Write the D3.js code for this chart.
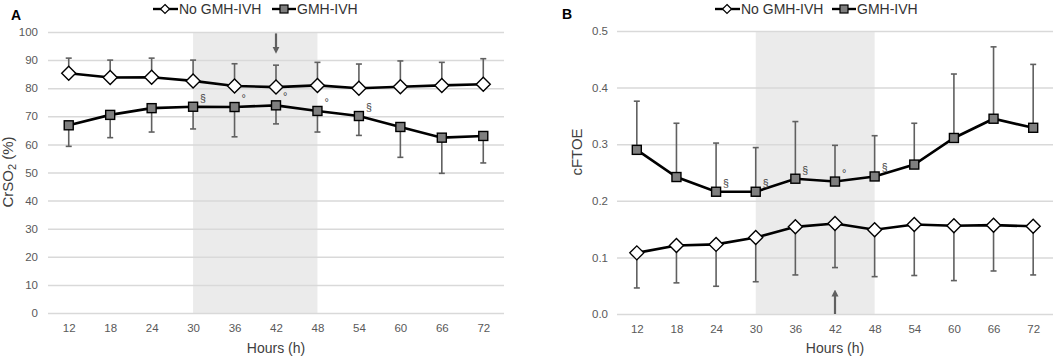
<!DOCTYPE html>
<html><head><meta charset="utf-8">
<script src="https://cdn.jsdelivr.net/npm/d3@7"></script>
<style>body{margin:0;background:#fff}svg{display:block;font-family:"Liberation Sans",Arial,sans-serif}</style>
</head><body><svg id="c" width="1063" height="360"></svg>
<script>
const hours = ["12","18","24","30","36","42","48","54","60","66","72"];
// Panel A: CrSO2 (%)
const aNoVal = [85.3,83.8,83.9,82.6,80.8,80.4,81.0,80.0,80.5,81.0,81.4];
const aNoUp  = [90.7,90.0,90.7,90.0,88.7,88.2,89.2,88.6,89.7,89.2,90.5];
const aGVal  = [66.8,70.5,72.9,73.4,73.3,73.9,71.9,70.1,66.2,62.4,63.0];
const aGLow  = [59.3,62.4,64.4,65.5,62.7,67.3,64.4,63.2,55.4,49.7,53.4];
const aTicks = [0,10,20,30,40,50,60,70,80,90,100];
const aNotes = [{h:"30",s:"§"},{h:"36",s:"°"},{h:"42",s:"°"},{h:"48",s:"°"},{h:"54",s:"§"}];
// Panel B: cFTOE
const bNoVal = [0.108,0.121,0.123,0.135,0.154,0.160,0.149,0.158,0.156,0.157,0.155];
const bNoLow = [0.046,0.055,0.049,0.057,0.069,0.082,0.066,0.068,0.059,0.076,0.069];
const bGVal  = [0.290,0.242,0.216,0.216,0.239,0.234,0.243,0.264,0.311,0.345,0.329];
const bGUp   = [0.376,0.337,0.302,0.294,0.340,0.298,0.315,0.337,0.424,0.472,0.441];
const bTicks = [0.0,0.1,0.2,0.3,0.4,0.5];
const bNotes = [{h:"24",s:"§"},{h:"30",s:"§"},{h:"36",s:"§"},{h:"42",s:"°"},{h:"48",s:"§"}];
const shade = ["30","48"];
const arrowHour = "42";

const svg = d3.select("#c");
svg.append("defs").append("marker").attr("id","ah").attr("viewBox","0 0 10 10")
  .attr("refX",5).attr("refY",5).attr("markerWidth",3.2).attr("markerHeight",3.2).attr("orient","auto")
  .append("path").attr("d","M0,0 L10,5 L0,10 z").attr("fill","#606060");

function panel(o){
  const g = svg.append("g");
  const x = d3.scalePoint().domain(hours).range(o.xr).padding(0.5);
  const y = d3.scaleLinear().domain(o.yd).range(o.yr);
  const x0 = o.xr[0], x1 = o.xr[1];
  // shading
  g.append("rect").attr("x",x(shade[0])).attr("width",x(shade[1])-x(shade[0]))
    .attr("y",y(o.yd[1])).attr("height",y(o.yd[0])-y(o.yd[1])).attr("fill","#ebebeb");
  // grid
  const ya = d3.axisLeft(y).tickValues(o.ticks).tickSize(-(x1-x0)).tickFormat(o.fmt).tickPadding(8);
  const yg = g.append("g").attr("transform",`translate(${x0},0)`).call(ya);
  yg.select(".domain").remove();
  yg.selectAll(".tick line").attr("stroke","#d9d9d9").attr("stroke-width",1.5);
  yg.selectAll(".tick text").attr("fill","#595959").attr("font-size",11.5).attr("dx",o.tdx);
  const xa = d3.axisBottom(x).tickSize(0).tickPadding(11);
  const xg = g.append("g").attr("transform",`translate(0,${y(o.yd[0])})`).call(xa);
  xg.select(".domain").remove();
  xg.selectAll(".tick text").attr("fill","#595959").attr("font-size",11.5);
  // error bars
  const eb = (vals, ends) => {
    const e = g.append("g").attr("stroke","#606060").attr("stroke-width",1.6);
    hours.forEach((h,i)=>{
      e.append("line").attr("x1",x(h)).attr("x2",x(h)).attr("y1",y(vals[i])).attr("y2",y(ends[i]));
      e.append("line").attr("x1",x(h)-3).attr("x2",x(h)+3).attr("y1",y(ends[i])).attr("y2",y(ends[i]));
    });
  };
  eb(o.noVal,o.noEnd); eb(o.gVal,o.gEnd);
  const line = d3.line().x((d,i)=>x(hours[i])).y(d=>y(d));
  [o.noVal,o.gVal].forEach(v=>g.append("path").attr("d",line(v)).attr("fill","none").attr("stroke","#000").attr("stroke-width",2.6));
  // markers
  g.selectAll(null).data(o.noVal).join("path")
    .attr("d","M0,-7 L7,0 L0,7 L-7,0 Z").attr("transform",(d,i)=>`translate(${x(hours[i])},${y(d)})`)
    .attr("fill","#fff").attr("stroke","#000").attr("stroke-width",1.4);
  g.selectAll(null).data(o.gVal).join("rect")
    .attr("x",(d,i)=>x(hours[i])-4.5).attr("y",d=>y(d)-4.5).attr("width",9).attr("height",9)
    .attr("fill","#7f7f7f").attr("stroke","#000").attr("stroke-width",1.4);
  // notes
  o.notes.forEach(n=>{
    const i = hours.indexOf(n.h);
    g.append("text").attr("x",x(n.h)+7).attr("y",y(o.gVal[i])-5).attr("font-size",n.s==="§"?10.5:11)
      .attr("fill","#404040").text(n.s);
  });
  // arrow
  g.append("line").attr("x1",x(arrowHour)).attr("x2",x(arrowHour))
    .attr("y1",y(o.arrow[0])).attr("y2",y(o.arrow[1])).attr("stroke","#606060").attr("stroke-width",2.2)
    .attr("marker-end","url(#ah)");
  // titles
  const cx = (x0+x1)/2;
  g.append("text").attr("x",cx).attr("y",353).attr("text-anchor","middle").attr("font-size",14).attr("fill","#404040").text("Hours (h)");
  const yt = g.append("text").attr("transform",`translate(${o.ytx},${o.yty}) rotate(-90)`)
    .attr("text-anchor","middle").attr("font-size",15).attr("fill","#404040");
  o.ytitle(yt);
  g.append("text").attr("x",o.letter[0]).attr("y",o.letter[1]).attr("font-weight","bold").attr("font-size",14).text(o.letterT);
  // legend
  const L = o.leg, ly = 9;
  const lg = g.append("g").attr("font-size",14).attr("fill","#333");
  lg.append("line").attr("x1",L[0]).attr("x2",L[0]+25).attr("y1",ly).attr("y2",ly).attr("stroke","#000").attr("stroke-width",2.4);
  lg.append("path").attr("d","M0,-4.5 L4.5,0 L0,4.5 L-4.5,0 Z").attr("transform",`translate(${L[0]+12},${ly})`).attr("fill","#fff").attr("stroke","#000").attr("stroke-width",1.2);
  lg.append("text").attr("x",L[0]+26).attr("y",ly+5).text("No GMH-IVH");
  lg.append("line").attr("x1",L[1]).attr("x2",L[1]+24).attr("y1",ly).attr("y2",ly).attr("stroke","#000").attr("stroke-width",2.4);
  lg.append("rect").attr("x",L[1]+8).attr("y",ly-4).attr("width",8).attr("height",8).attr("fill","#7f7f7f").attr("stroke","#000").attr("stroke-width",1.2);
  lg.append("text").attr("x",L[1]+25).attr("y",ly+5).text("GMH-IVH");
}

panel({xr:[48,504], yd:[0,100], yr:[313,32], ticks:aTicks, fmt:d3.format("d"), tdx:-2,
  noVal:aNoVal, noEnd:aNoUp, gVal:aGVal, gEnd:aGLow, notes:aNotes, arrow:[99.5,93.5],
  ytx:13, yty:172, ytitle:t=>{t.append("tspan").text("CrSO");t.append("tspan").attr("font-size",11).attr("dy",3).text("2");t.append("tspan").attr("dy",-3).text(" (%)");},
  letter:[11,20], letterT:"A", leg:[153,272]});
panel({xr:[617,1053], yd:[0,0.5], yr:[314,31], ticks:bTicks, fmt:d3.format(".1f"), tdx:-1,
  noVal:bNoVal, noEnd:bNoLow, gVal:bGVal, gEnd:bGUp, notes:bNotes, arrow:[0.0,0.037],
  ytx:582, yty:152, ytitle:t=>t.text("cFTOE"),
  letter:[562,19], letterT:"B", leg:[715,832]});
</script></body></html>
